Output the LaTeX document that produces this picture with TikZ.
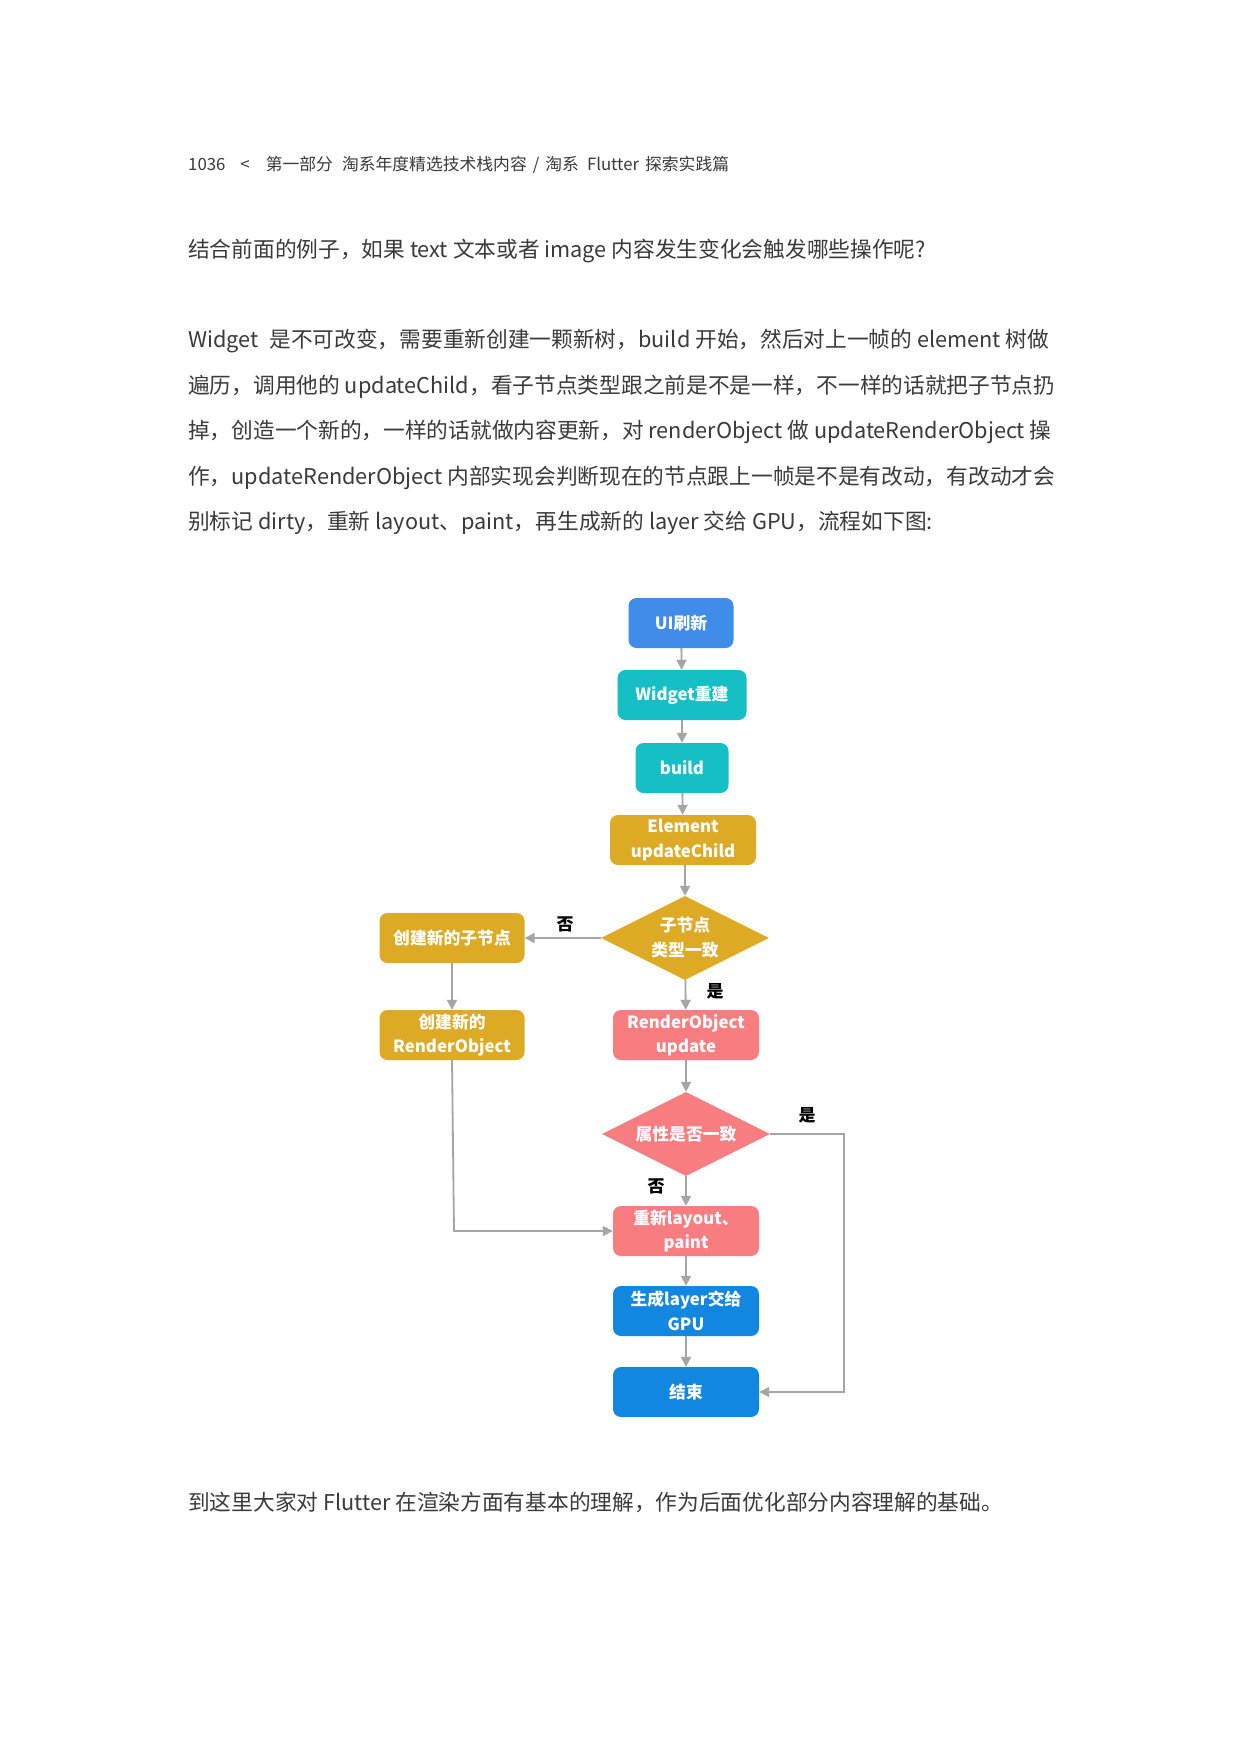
\documentclass[tikz,border=0pt]{standalone}
\usepackage{fontspec}
\setmainfont{Noto Sans CJK SC}
\newfontfamily\cjk{Noto Sans CJK SC}
\usetikzlibrary{shapes.geometric,arrows.meta}
\definecolor{bodytxt}{HTML}{3A3A3A}
\definecolor{cblue}{HTML}{3F8DE8}
\definecolor{cteal}{HTML}{16BFC5}
\definecolor{cgold}{HTML}{DDAA26}
\definecolor{cpink}{HTML}{F87D80}
\definecolor{cdblue}{HTML}{1287E0}
\definecolor{cline}{HTML}{A5A5A5}
\tikzset{
  bodyline/.style={anchor=west,inner sep=0pt,text=bodytxt,font=\cjk\fontsize{21.7}{26}\selectfont},
  headline/.style={anchor=west,inner sep=0pt,text=bodytxt,font=\cjk\fontsize{16.8}{20}\selectfont},
  fbox/.style={rounded corners=8pt,inner sep=0pt,text=white,align=center,
     font=\cjk\bfseries\fontsize{16.8}{24.5}\selectfont,minimum height=50pt},
  fdia/.style={diamond,aspect=2,inner sep=0pt,text=white,align=center,
     font=\cjk\bfseries\fontsize{16.8}{25}\selectfont,minimum width=168pt,minimum height=84pt},
  flow/.style={draw=cline,line width=1.8pt,-{Triangle[length=10pt,width=10pt]}},
  lbl/.style={inner sep=0pt,text=black,font=\cjk\bfseries\fontsize{17}{20}\selectfont}
}
\begin{document}
\begin{tikzpicture}[x=1pt,y=-1pt]
\useasboundingbox[fill=white] (0,0) rectangle (1240,1755);
% header
\node[headline] (hd) at (188,165) {1036\hspace{15pt}<\hspace{16pt}第一部分\hspace{9pt}淘系年度精选技术栈内容\hspace{6pt}/\hspace{6pt}淘系\hspace{8pt}Flutter\hspace{6pt}探索实践篇};
% text
\node[bodyline] (t1) at (188,251) {结合前面的例子，如果 text 文本或者 image 内容发生变化会触发哪些操作呢?};
\node[bodyline] (p1) at (188,341) {Widget\hspace{6pt} 是不可改变，需要重新创建一颗新树，build 开始，然后对上一帧的 element 树做};
\node[bodyline] (p2) at (188,387) {遍历，调用他的 updateChild，看子节点类型跟之前是不是一样，不一样的话就把子节点扔};
\node[bodyline] (p3) at (188,432) {掉，创造一个新的，一样的话就做内容更新，对 renderObject 做 updateRenderObject 操};
\node[bodyline] (p4) at (188,478) {作，updateRenderObject 内部实现会判断现在的节点跟上一帧是不是有改动，有改动才会};
\node[bodyline] (p5) at (188,523) {别标记 dirty，重新 layout、paint，再生成新的 layer 交给 GPU，流程如下图:};
\node[bodyline] (b1) at (188,1502) {到这里大家对 Flutter 在渲染方面有基本的理解，作为后面优化部分内容理解的基础。};
% flowchart
\node[fbox,fill=cblue,minimum width=105pt] (ui) at (681,623) {UI刷新};
\node[fbox,fill=cteal,minimum width=129pt] (wr) at (682,695) {Widget重建};
\node[fbox,fill=cteal,minimum width=93pt] (bd) at (682,768) {build};
\node[fbox,fill=cgold,minimum width=146pt] (el) at (683,840) {Element\\updateChild};
\node[fdia,fill=cgold] (d1) at (685,938) {子节点\\类型一致};
\node[fbox,fill=cgold,minimum width=145pt] (cn) at (452,938) {创建新的子节点};
\node[fbox,fill=cgold,minimum width=145pt] (cr) at (452,1035) {创建新的\\RenderObject};
\node[fbox,fill=cpink,minimum width=146pt] (ru) at (686,1035) {RenderObject\\update};
\node[fdia,fill=cpink] (d2) at (686,1134) {属性是否一致};
\node[fbox,fill=cpink,minimum width=146pt] (lp) at (686,1231) {重新layout、\\paint};
\node[fbox,fill=cdblue,minimum width=146pt] (gp) at (686,1311) {生成layer交给\\GPU};
\node[fbox,fill=cdblue,minimum width=146pt] (ed) at (686,1392) {结束};
\coordinate (c1) at (454,1231);
\coordinate (c2) at (844,1134);
\coordinate (c3) at (844,1392);
\draw[flow] (ui) -- (wr);
\draw[flow] (wr) -- (bd);
\draw[flow] (bd) -- (el);
\draw[flow] (el.south -| d1.north) -- (d1.north);
\draw[flow] (d1) -- (cn);
\draw[flow] (cn) -- (cr);
\draw[flow] (d1) -- (ru);
\draw[flow] (ru) -- (d2);
\draw[flow] (d2) -- (lp);
\draw[flow] (lp) -- (gp);
\draw[flow] (gp) -- (ed);
\draw[flow] (cr.south) -- (c1) -- (lp.west);
\draw[flow] (d2.east) -- (c2) -- (c3) -- (ed.east);
\node[lbl] (n1) at (565,924) {否};
\node[lbl] (y1) at (715,991) {是};
\node[lbl] (y2) at (807,1115) {是};
\node[lbl] (n2) at (656,1186) {否};
\end{tikzpicture}
\end{document}
